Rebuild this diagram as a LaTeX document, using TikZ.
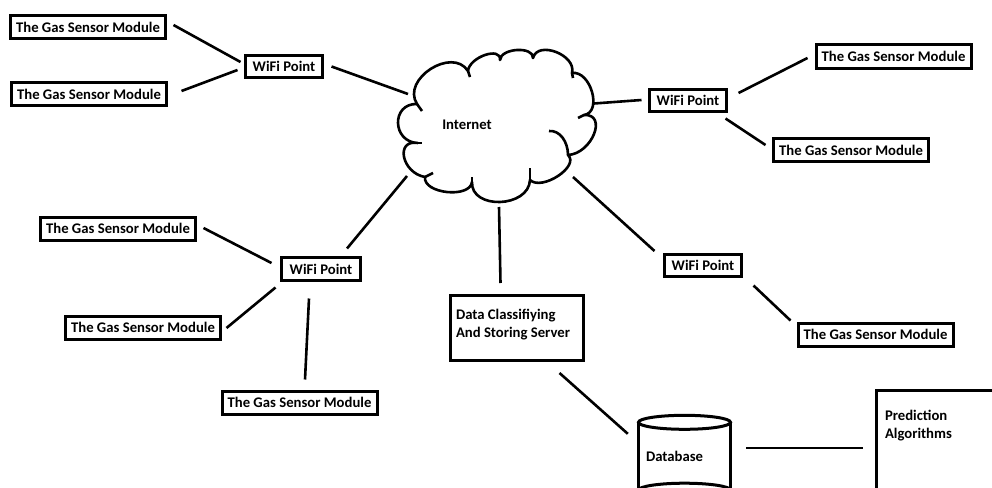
\documentclass[tikz,border=0pt]{standalone}
\usepackage{fontspec}
\setmainfont{Carlito}
\begin{document}
\begin{tikzpicture}[x=1pt,y=-1pt,
  lbl/.style={font=\bfseries\fontsize{14.7}{18}\selectfont},
  gsm/.style={lbl,draw,line width=3pt,minimum width=155pt,minimum height=23pt,inner sep=0pt},
  wifi/.style={lbl,draw,line width=3pt,minimum width=77pt,minimum height=22pt,inner sep=0pt},
  conn/.style={line width=2.6pt},
  cloudline/.style={line width=2.6pt,line join=round}]
\clip (0,0) rectangle (992,487);
\fill[white] (0,0) rectangle (992,487);

% sensor modules
\node[gsm] (g1) at (88,27) {The Gas Sensor Module};
\node[gsm] (g2) at (89,94) {The Gas Sensor Module};
\node[gsm] (g3) at (893.5,56.5) {The Gas Sensor Module};
\node[gsm] (g4) at (851,150) {The Gas Sensor Module};
\node[gsm] (g5) at (118,228.5) {The Gas Sensor Module};
\node[gsm] (g6) at (143,327.5) {The Gas Sensor Module};
\node[gsm] (g7) at (299.5,402.5) {The Gas Sensor Module};
\node[gsm] (g8) at (875.5,334.5) {The Gas Sensor Module};

% wifi points
\node[wifi] (w1) at (284,66.5) {WiFi Point};
\node[wifi] (w2) at (688,100.5) {WiFi Point};
\node[wifi,minimum width=79pt,minimum height=23pt] (w3) at (321,269) {WiFi Point};
\node[wifi] (w4) at (703,265.5) {WiFi Point};

% server
\node[lbl,draw,line width=3pt,anchor=north west,inner xsep=6pt,inner ysep=13.8pt] (srv) at (448.5,293.5)
  {\parbox[c][37.4pt][t]{121pt}{\raggedright Data Classifiying\\And Storing Server}};

% prediction
\node[lbl,draw,line width=3pt,anchor=north west,inner xsep=9pt,inner ysep=19.8pt] (pred) at (874.5,388.5)
  {\parbox[c][100pt][t]{130pt}{\raggedright Prediction\\Algorithms}};

% database
\node[lbl,minimum width=92pt,minimum height=67.5pt,text width=77pt,align=left,inner xsep=7.5pt,inner ysep=0pt] (db) at (684.5,456.25) {Database};
\draw[line width=3pt] (db.north west) -- (db.south west) (db.north east) -- (db.south east);
\draw[line width=3pt] (db.north) ellipse [x radius=46pt, y radius=7pt];
\draw[line width=3pt] (db.south) ellipse [x radius=46pt, y radius=7pt];

% cloud
\draw[cloudline] (418,143)
 .. controls (392,142.3) and (391,103.3) .. (417,104)
 .. controls (401.1,79.3) and (452.1,46.3) .. (468,71)
 .. controls (469.3,57) and (501.3,46) .. (500,60)
 .. controls (500.7,48) and (533.7,46) .. (533,58)
 .. controls (537.7,40) and (576.7,55) .. (572,73)
 .. controls (590.7,70.3) and (602.7,112.3) .. (584,115)
 .. controls (608,113.7) and (592,153.7) .. (568,155)
 .. controls (580,166.3) and (542,191.3) .. (530,180)
 .. controls (528.7,208) and (470.7,210) .. (472,182)
 .. controls (470,198.7) and (423,193.7) .. (425,177)
 .. controls (401.7,173) and (394.7,139) .. (418,143);
\draw[cloudline] (417,104) .. controls (419,107) .. (422,111);
\draw[cloudline] (468,71) -- (470,77);
\draw[cloudline] (572,73) -- (573,78);
\draw[cloudline] (584,115) -- (578,118);
\draw[cloudline] (549,131) .. controls (560,130) and (568,142) .. (568,155);
\draw[cloudline] (530,180) -- (530,168);
\draw[cloudline] (472,182) -- (472,177);
\draw[cloudline] (425,177) -- (433,173);
\draw[cloudline] (418,143) -- (422,143);
\node[lbl] (inet) at (467,124.5) {Internet};

\coordinate (cw1) at (408,94);
\coordinate (cw2) at (594,103.5);
\coordinate (cw3) at (407,176);
\coordinate (csrv) at (499,207);
\coordinate (cw4) at (573,177);

% connectors
\draw[conn] ([shift={(6.5,-2)}]g1.east) -- ([shift={(-3.5,-4.5)}]w1.west);
\draw[conn] ([shift={(13.5,-3)}]g2.east) -- ([shift={(-6.5,3.5)}]w1.west);
\draw[conn] ([shift={(7.5,0)}]w1.east) -- (cw1);
\draw[conn] (cw2) -- ([shift={(-6.5,-0.5)}]w2.west);
\draw[conn] ([shift={(10.5,-7.5)}]w2.east) -- ([shift={(-7,1.5)}]g3.west);
\draw[conn] ([shift={(-2.5,5.5)}]w2.south east) -- ([shift={(-6.5,-5)}]g4.west);
\draw[conn] ([shift={(6.5,-0.5)}]g5.east) -- ([shift={(-8.5,-6)}]w3.west);
\draw[conn] ([shift={(4.5,0.5)}]g6.east) -- ([shift={(-4.5,5.5)}]w3.south west);
\draw[conn] ([shift={(-12,16.5)}]w3.south) -- ([shift={(5.5,-10)}]g7.north);
\draw[conn] ([shift={(26,-7.5)}]w3.north) -- (cw3);
\draw[conn] (csrv) -- ([shift={(-16,-10.5)}]srv.north);
\draw[conn] (cw4) -- ([shift={(-8.5,-14.5)}]w4.west);
\draw[conn] ([shift={(10.5,7.5)}]w4.south east) -- ([shift={(-6,-1)}]g8.north west);
\draw[conn] ([shift={(43,11.5)}]srv.south) -- ([shift={(-10.5,11.5)}]db.north west);
\draw[conn] ([shift={(15.5,-8.25)}]db.east) -- ([shift={(-11.5,59.5)}]pred.north west);
\end{tikzpicture}
\end{document}
